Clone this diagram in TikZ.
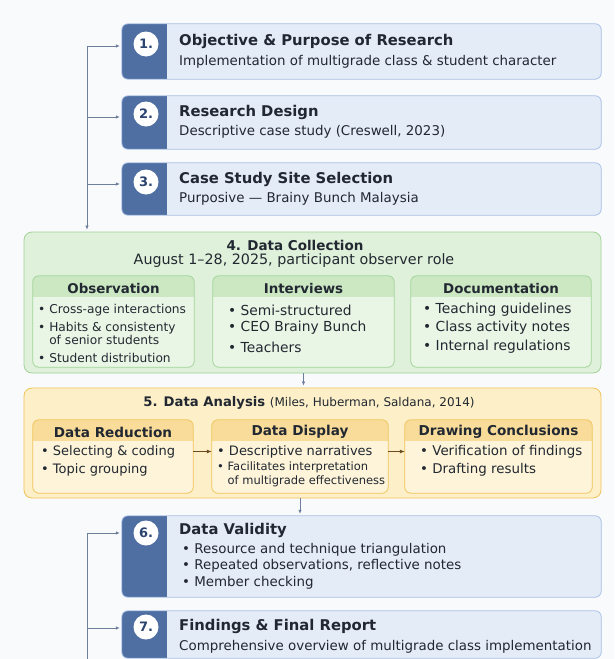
\documentclass[tikz,border=0pt]{standalone}
\usepackage{fontspec}
\setmainfont{DejaVu Sans}
\usetikzlibrary{arrows.meta,fit,positioning}

\definecolor{bgpage}{HTML}{F9FAFC}
\definecolor{tabblue}{HTML}{4F6FA3}
\definecolor{cardfill}{HTML}{E4ECF8}
\definecolor{cardline}{HTML}{A8BFE3}
\definecolor{numblue}{HTML}{2C4470}
\definecolor{inktext}{HTML}{222831}
\definecolor{railgrey}{HTML}{6D7F9C}
\definecolor{greenfill}{HTML}{DFF1DA}
\definecolor{greenline}{HTML}{A3D39A}
\definecolor{greensub}{HTML}{E9F6E5}
\definecolor{greenhead}{HTML}{CBE8C3}
\definecolor{yellowfill}{HTML}{FDF0C9}
\definecolor{yellowline}{HTML}{F0C35A}
\definecolor{yellowsub}{HTML}{FDF4D9}
\definecolor{yellowhead}{HTML}{F9DC9A}
\definecolor{brownarrow}{HTML}{6B4A1E}

\tikzset{
  cardbox/.style={fill=cardfill, rounded corners=6pt, inner sep=0pt},
  cardedge/.style={draw=cardline, line width=0.8pt, rounded corners=6pt},
  numdot/.style={circle, fill=white, inner sep=0pt, minimum size=25pt,
    text=numblue, font=\fontsize{13}{15}\selectfont\bfseries},
  cardtitle/.style={anchor=west, inner sep=0pt, text=inktext,
    font=\fontsize{14.8}{17}\selectfont\bfseries},
  cardsub/.style={anchor=west, inner sep=0pt, text=inktext,
    font=\fontsize{13.4}{16}\selectfont},
  rail/.style={draw=railgrey, line width=0.7pt},
  railarrow/.style={rail, -{Latex[length=4pt,width=3.5pt]}, shorten >=2pt},
  panelbox/.style={rounded corners=8pt, inner sep=0pt, line width=0.8pt},
  subbox/.style={rounded corners=6pt, inner sep=0pt},
  subedge/.style={line width=0.8pt, rounded corners=6pt},
  headtext/.style={inner sep=0pt, text=inktext, font=\fontsize{13.4}{15}\selectfont\bfseries},
  item/.style={anchor=west, inner sep=0pt, text=inktext, align=left,
    font=\fontsize{13.8}{15}\selectfont},
  smallitem/.style={item, font=\fontsize{12.2}{13}\selectfont},
  stageitem/.style={item, font=\fontsize{13}{14}\selectfont},
  stagearrow/.style={draw=brownarrow, line width=0.8pt, -{Latex[length=5pt,width=4pt]}}
}

\begin{document}
\begin{tikzpicture}[x=1pt,y=-1pt]
\useasboundingbox[fill=bgpage] (0,0) rectangle (614,659);

% Blue step cards
\foreach \n/\ya/\yb in {1/24/79, 2/96/149, 3/163/215, 6/516/597, 7/611/658}{
  \coordinate (c\n-nw) at (122,\ya);
  \coordinate (c\n-se) at (601,\yb);
  \node[cardbox, fit=(c\n-nw)(c\n-se)] (card\n) {};
  \begin{scope}
    \clip[rounded corners=6pt] (card\n.north west) rectangle (card\n.south east);
    \fill[tabblue] (card\n.north west) rectangle ([xshift=45pt]card\n.south west);
  \end{scope}
  \draw[cardedge] (card\n.north west) rectangle (card\n.south east);
}
\foreach \n/\yc in {1/44, 2/114, 3/182, 6/533, 7/627}
  \node[numdot] (num\n) at (146,\yc) {\n.};

\node[cardtitle] (title1) at (179,41) {Objective \& Purpose of Research};
\node[cardsub] (sub1) at (179,62) {Implementation of multigrade class \& student character};
\node[cardtitle] (title2) at (179,112) {Research Design};
\node[cardsub] (sub2) at (179,132) {Descriptive case study (Creswell, 2023)};
\node[cardtitle] (title3) at (179,179) {Case Study Site Selection};
\node[cardsub] (sub3) at (179,199) {Purposive — Brainy Bunch Malaysia};
\node[cardtitle] (title6) at (179,530) {Data Validity};
\node[cardsub] (val1) at (182,550) {• Resource and technique triangulation};
\node[cardsub] (val2) at (182,566) {• Repeated observations, reflective notes};
\node[cardsub] (val3) at (182,583) {• Member checking};
\node[cardtitle] (title7) at (179,626) {Findings \& Final Report};
\node[cardsub] (sub7) at (179,647) {Comprehensive overview of multigrade class implementation};

% 4. Data Collection
\coordinate (g-nw) at (24,232);
\coordinate (g-se) at (601,373);
\node[panelbox, fill=greenfill, draw=greenline, fit=(g-nw)(g-se)] (collect) {};
\node[headtext, font=\fontsize{13.5}{15}\selectfont\bfseries] (collect-title) at (295,245) {4. Data Collection};
\node[inner sep=0pt, text=inktext, font=\fontsize{14.3}{16}\selectfont] (collect-sub) at (294,261)
  {August 1–28, 2025, participant observer role};

\foreach \nm/\xa/\xb/\hd in {obs/33/194/Observation, intv/213/394/Interviews, docu/411/591/Documentation}{
  \coordinate (\nm-nw) at (\xa,276);
  \coordinate (\nm-se) at (\xb,367);
  \node[subbox, fill=greensub, fit=(\nm-nw)(\nm-se)] (\nm) {};
  \begin{scope}
    \clip[rounded corners=6pt] (\nm.north west) rectangle (\nm.south east);
    \fill[greenhead] (\nm.north west) rectangle (\xb,297);
  \end{scope}
  \draw[subedge, draw=greenline] (\nm.north west) rectangle (\nm.south east);
  \node[headtext] (\nm-head) at ({(\xa+\xb)/2},288) {\hd};
}
\node[smallitem] (obs1) at (38,310) {• Cross-age interactions};
\node[smallitem, anchor=north west] (obs2) at (38,322) {• Habits \& consistenty\\\hphantom{• }of senior students};
\node[smallitem] (obs3) at (38,358) {• Student distribution};
\node[item] (intv1) at (228,310) {• Semi-structured};
\node[item] (intv2) at (228,328) {• CEO Brainy Bunch};
\node[item] (intv3) at (228,347) {• Teachers};
\node[item] (docu1) at (423,310) {• Teaching guidelines};
\node[item] (docu2) at (423,328) {• Class activity notes};
\node[item] (docu3) at (423,347) {• Internal regulations};

% 5. Data Analysis
\coordinate (y-nw) at (24,388);
\coordinate (y-se) at (601,498);
\node[panelbox, fill=yellowfill, draw=yellowline, fit=(y-nw)(y-se)] (analysis) {};
\node[inner sep=0pt, text=inktext] (analysis-title) at (309,403)
  {\fontsize{13.2}{15}\selectfont\bfseries 5. Data Analysis \fontsize{12}{14}\selectfont\mdseries(Miles, Huberman, Saldana, 2014)};

\foreach \nm/\xa/\xb/\hd in {reduce/33/193/Data Reduction, display/212/388/Data Display, conclude/405/592/Drawing Conclusions}{
  \coordinate (\nm-nw) at (\xa,420);
  \coordinate (\nm-se) at (\xb,493);
  \node[subbox, fill=yellowsub, fit=(\nm-nw)(\nm-se)] (\nm) {};
  \begin{scope}
    \clip[rounded corners=6pt] (\nm.north west) rectangle (\nm.south east);
    \fill[yellowhead] (\nm.north west) rectangle (\xb,441);
  \end{scope}
  \draw[subedge, draw=yellowline] (\nm.north west) rectangle (\nm.south east);
  \node[headtext, font=\fontsize{13.6}{16}\selectfont\bfseries] (\nm-head) at ({(\xa+\xb)/2},432) {\hd};
}
\node[stageitem] (reduce1) at (41,452) {• Selecting \& coding};
\node[stageitem] (reduce2) at (41,470) {• Topic grouping};
\node[stageitem] (display1) at (217,452) {• Descriptive narratives};
\node[stageitem, font=\fontsize{11.5}{14}\selectfont, anchor=north west] (display2) at (217,462) {• Facilitates interpretation\\\hphantom{• }of multigrade effectiveness};
\node[stageitem, font=\fontsize{13.4}{15}\selectfont] (conclude1) at (420,452) {• Verification of findings};
\node[stageitem, font=\fontsize{13.4}{15}\selectfont] (conclude2) at (420,470) {• Drafting results};

\draw[stagearrow] ([yshift=5pt]reduce.east) -- ([yshift=5pt]display.west);
\draw[stagearrow] ([yshift=5pt]display.east) -- ([yshift=5pt]conclude.west);

% Connectors
\coordinate (railtop) at (87,46);
\coordinate (railbot) at (87,662);
\draw[railarrow] (railtop) -- (railtop |- collect.north);
\foreach \n/\ya in {1/46, 2/117, 3/184, 6/533, 7/628}{
  \coordinate (rail\n) at (87,\ya);
  \draw[railarrow] (rail\n) -- (rail\n -| card\n.west);
}
\draw[rail] (railbot) -- (rail6);
\draw[railarrow] (collect.south -| intv.south) -- (analysis.north -| intv.south);
\draw[railarrow] (analysis.south -| display.south) -- (card6.north -| display.south);
\end{tikzpicture}
\end{document}
